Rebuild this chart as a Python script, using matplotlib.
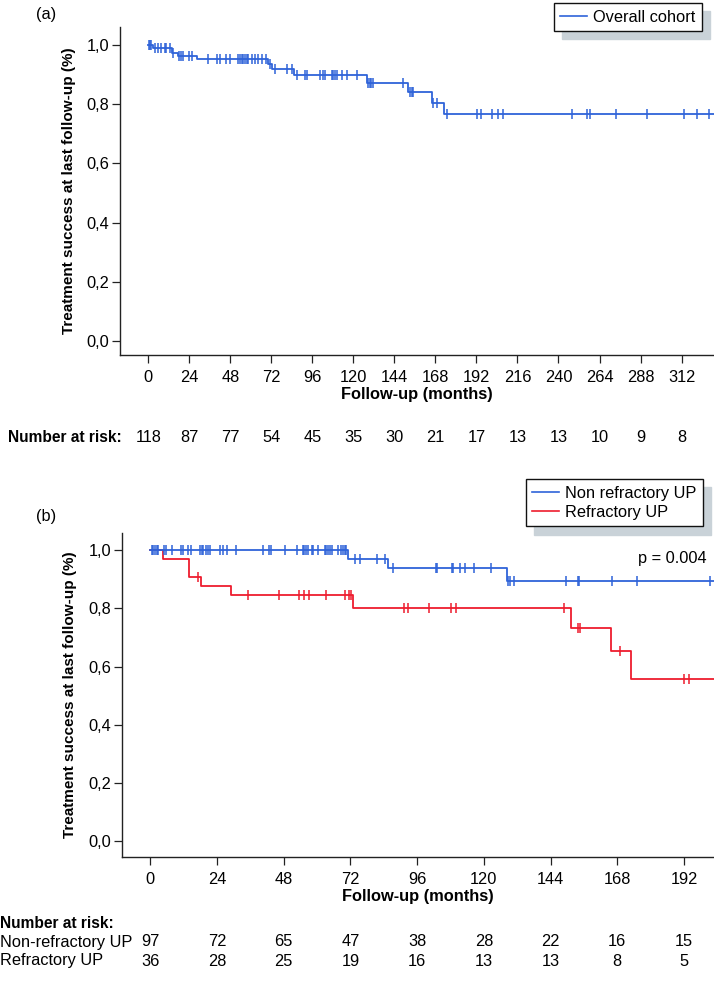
import numpy as np
import matplotlib
matplotlib.use("Agg")
import matplotlib.pyplot as plt
from matplotlib import transforms
from matplotlib.lines import Line2D

plt.rcParams['font.family'] = ['Liberation Sans', 'DejaVu Sans']

# ---------------- data (a): overall cohort ----------------
ov_event_t = [2.5, 13.6, 17.5, 28.3, 70.2, 72.1, 85.2, 127.7, 152.1, 165.8, 173.2]
ov_event_s = [0.991, 0.972, 0.963, 0.953, 0.935, 0.918, 0.899, 0.873, 0.842, 0.803, 0.766]
ov_cens = [0.3, 1.0, 1.6, 3.9, 5.8, 7.1, 9.6, 10.6, 12.6, 14.6, 18.0, 19.0, 20.0, 24.0, 25.7,
           35.0, 40.0, 41.9, 45.4, 47.7, 52.6, 53.6, 54.6, 55.5, 56.5, 57.5, 58.5, 60.4, 62.4,
           64.3, 66.3, 68.8, 71.0, 74.1, 80.9, 83.8, 86.8, 91.6, 92.6, 100.4, 102.0, 103.3,
           107.2, 108.2, 109.2, 110.5, 113.1, 116.0, 121.9, 128.7, 129.5, 130.3, 131.2, 148.8,
           153.0, 154.0, 155.0, 166.7, 169.0, 175.0, 192.5, 194.4, 201.0, 204.7, 207.3, 247.7,
           256.5, 258.4, 273.6, 291.8, 313.6, 320.8, 327.9]
ov_end = 332
ov_ticks = list(range(0, 313, 24))
ov_risk = [118, 87, 77, 54, 45, 35, 30, 21, 17, 13, 13, 10, 9, 8]

# ---------------- data (b): non refractory / refractory ----------------
nr_event_t = [71.2, 85.4, 128.2]
nr_event_s = [0.969, 0.939, 0.895]
nr_cens = [0.5, 1.1, 1.7, 2.3, 2.9, 4.9, 5.5, 7.7, 10.9, 11.9, 13.7, 14.6, 17.9, 18.5, 19.1,
           20.0, 20.9, 21.5, 25.1, 26.0, 27.7, 30.8, 40.6, 42.8, 43.4, 48.5, 52.9, 54.8, 55.3,
           55.9, 56.8, 58.1, 58.6, 60.4, 62.8, 63.4, 64.0, 64.6, 65.5, 67.6, 68.8, 69.4, 70.0,
           70.6, 73.6, 75.6, 81.4, 84.6, 87.4, 102.8, 103.3, 108.5, 109.0, 111.4, 113.4, 116.4,
           122.5, 128.7, 129.3, 131.0, 149.6, 153.8, 154.2, 166.2, 175.2, 201.4]
r_event_t = [4.5, 14.1, 18.2, 29.0, 72.8, 151.5, 165.6, 172.9]
r_event_s = [0.969, 0.909, 0.878, 0.845, 0.800, 0.732, 0.653, 0.557]
r_cens = [17.1, 35.3, 46.5, 53.6, 55.4, 57.1, 63.3, 70.1, 71.5, 72.2, 91.3, 92.9, 100.3,
          108.3, 109.9, 148.8, 154.0, 154.6, 169.0, 192.1, 193.8]
b_end = 204
b_ticks = list(range(0, 193, 24))
nr_risk = [97, 72, 65, 47, 38, 28, 22, 16, 15]
r_risk = [36, 28, 25, 19, 16, 13, 13, 8, 5]

y_ticks = [0.0, 0.2, 0.4, 0.6, 0.8, 1.0]
y_labels = ['0,0', '0,2', '0,4', '0,6', '0,8', '1,0']

BLUE = '#2f63d9'
RED = '#ee1c2e'
SHADOW = '#c9d2d8'
FS = 11.8

W, H = 714, 1000
fig = plt.figure(figsize=(W / 100, H / 100), dpi=100)


def px_axes(left, top, right, bottom):
    return fig.add_axes([left / W, 1 - bottom / H, (right - left) / W, (bottom - top) / H])


def km(ax, ev_t, ev_s, cens, end, color):
    t = np.concatenate([[0.0], ev_t, [end]])
    s = np.concatenate([[1.0], ev_s, [ev_s[-1]]])
    ax.step(t, s, where='post', color=color, lw=1.3)
    levels = np.concatenate([[1.0], ev_s])
    idx = np.searchsorted(np.asarray(ev_t), np.asarray(cens), side='right')
    ax.plot(cens, levels[idx], ls='none', marker='|', ms=7, mew=1.1, color=color)


def style(ax, xticks, xlim, ylim):
    ax.set_xlim(*xlim)
    ax.set_ylim(*ylim)
    for sp in ['top', 'right']:
        ax.spines[sp].set_visible(False)
    for sp in ['left', 'bottom']:
        ax.spines[sp].set_linewidth(1.0)
        ax.spines[sp].set_color('#222222')
    ax.set_xticks(xticks)
    ax.set_xticklabels([str(v) for v in xticks])
    ax.set_yticks(y_ticks)
    ax.set_yticklabels(y_labels)
    ax.tick_params(axis='x', direction='out', length=5.5, width=0.9, pad=5, labelsize=FS, color='#222222')
    ax.tick_params(axis='y', direction='out', length=6, width=0.9, pad=1.5, labelsize=FS, color='#222222')
    ax.set_ylabel('Treatment success at last follow-up (%)', fontsize=11, fontweight='bold', labelpad=8)
    ax.set_xlabel('Follow-up (months)', fontsize=FS, fontweight='bold', labelpad=1.5)
    ax.patch.set_visible(False)


def legend(ax, handles, labels, right, top):
    leg = ax.legend(handles, labels, loc='upper right', bbox_to_anchor=(right / W, 1 - top / H),
                    bbox_transform=fig.transFigure, borderaxespad=0, fancybox=False,
                    edgecolor='#111111', framealpha=1, fontsize=FS, handlelength=1.6,
                    handletextpad=0.4, borderpad=0.4, labelspacing=0.25,
                    shadow={'ox': 6, 'oy': -6, 'facecolor': SHADOW, 'edgecolor': SHADOW, 'alpha': 1})
    leg.get_frame().set_linewidth(1.0)
    return leg


# ---------------- panel (a) ----------------
ax1 = px_axes(120, 27, 714, 355)
km(ax1, ov_event_t, ov_event_s, ov_cens, ov_end, BLUE)
style(ax1, ov_ticks, (-16.6, 331), (-0.047, 1.061))
legend(ax1, [Line2D([], [], color=BLUE, lw=1.2)], ['Overall cohort'], 702, 3)
fig.text(46 / W, 1 - 14 / H, '(a)', fontsize=FS, ha='center', va='center')

tr1 = transforms.blended_transform_factory(ax1.transData, fig.transFigure)
fig.text(8 / W, 1 - 437 / H, 'Number at risk:', fontsize=11.2, fontweight='bold', ha='left', va='center')
for t, n in zip(ov_ticks, ov_risk):
    ax1.text(t, 1 - 437 / H, str(n), transform=tr1, fontsize=FS, ha='center', va='center')

# ---------------- panel (b) ----------------
ax2 = px_axes(121.6, 533, 714, 857)
km(ax2, r_event_t, r_event_s, r_cens, b_end, RED)
km(ax2, nr_event_t, nr_event_s, nr_cens, b_end, BLUE)
style(ax2, b_ticks, (-10.3, 202.8), (-0.054, 1.059))
legend(ax2, [Line2D([], [], color=BLUE, lw=1.2), Line2D([], [], color=RED, lw=1.2)],
       ['Non refractory UP', 'Refractory UP'], 703, 479)
ax2.text(0.988, 0.973, 'p = 0.004', transform=ax2.get_yaxis_transform(), fontsize=FS,
         ha='right', va='center')
fig.text(46 / W, 1 - 517 / H, '(b)', fontsize=FS, ha='center', va='center')

tr2 = transforms.blended_transform_factory(ax2.transData, fig.transFigure)
fig.text(0, 1 - 923 / H, 'Number at risk:', fontsize=11.2, fontweight='bold', ha='left', va='center')
fig.text(0, 1 - 942 / H, 'Non-refractory UP', fontsize=FS, ha='left', va='center')
fig.text(0, 1 - 961 / H, 'Refractory UP', fontsize=FS, ha='left', va='center')
for t, a, b in zip(b_ticks, nr_risk, r_risk):
    ax2.text(t, 1 - 942 / H, str(a), transform=tr2, fontsize=FS, ha='center', va='center')
    ax2.text(t, 1 - 961 / H, str(b), transform=tr2, fontsize=FS, ha='center', va='center')

fig.savefig('out.png', dpi=100)
